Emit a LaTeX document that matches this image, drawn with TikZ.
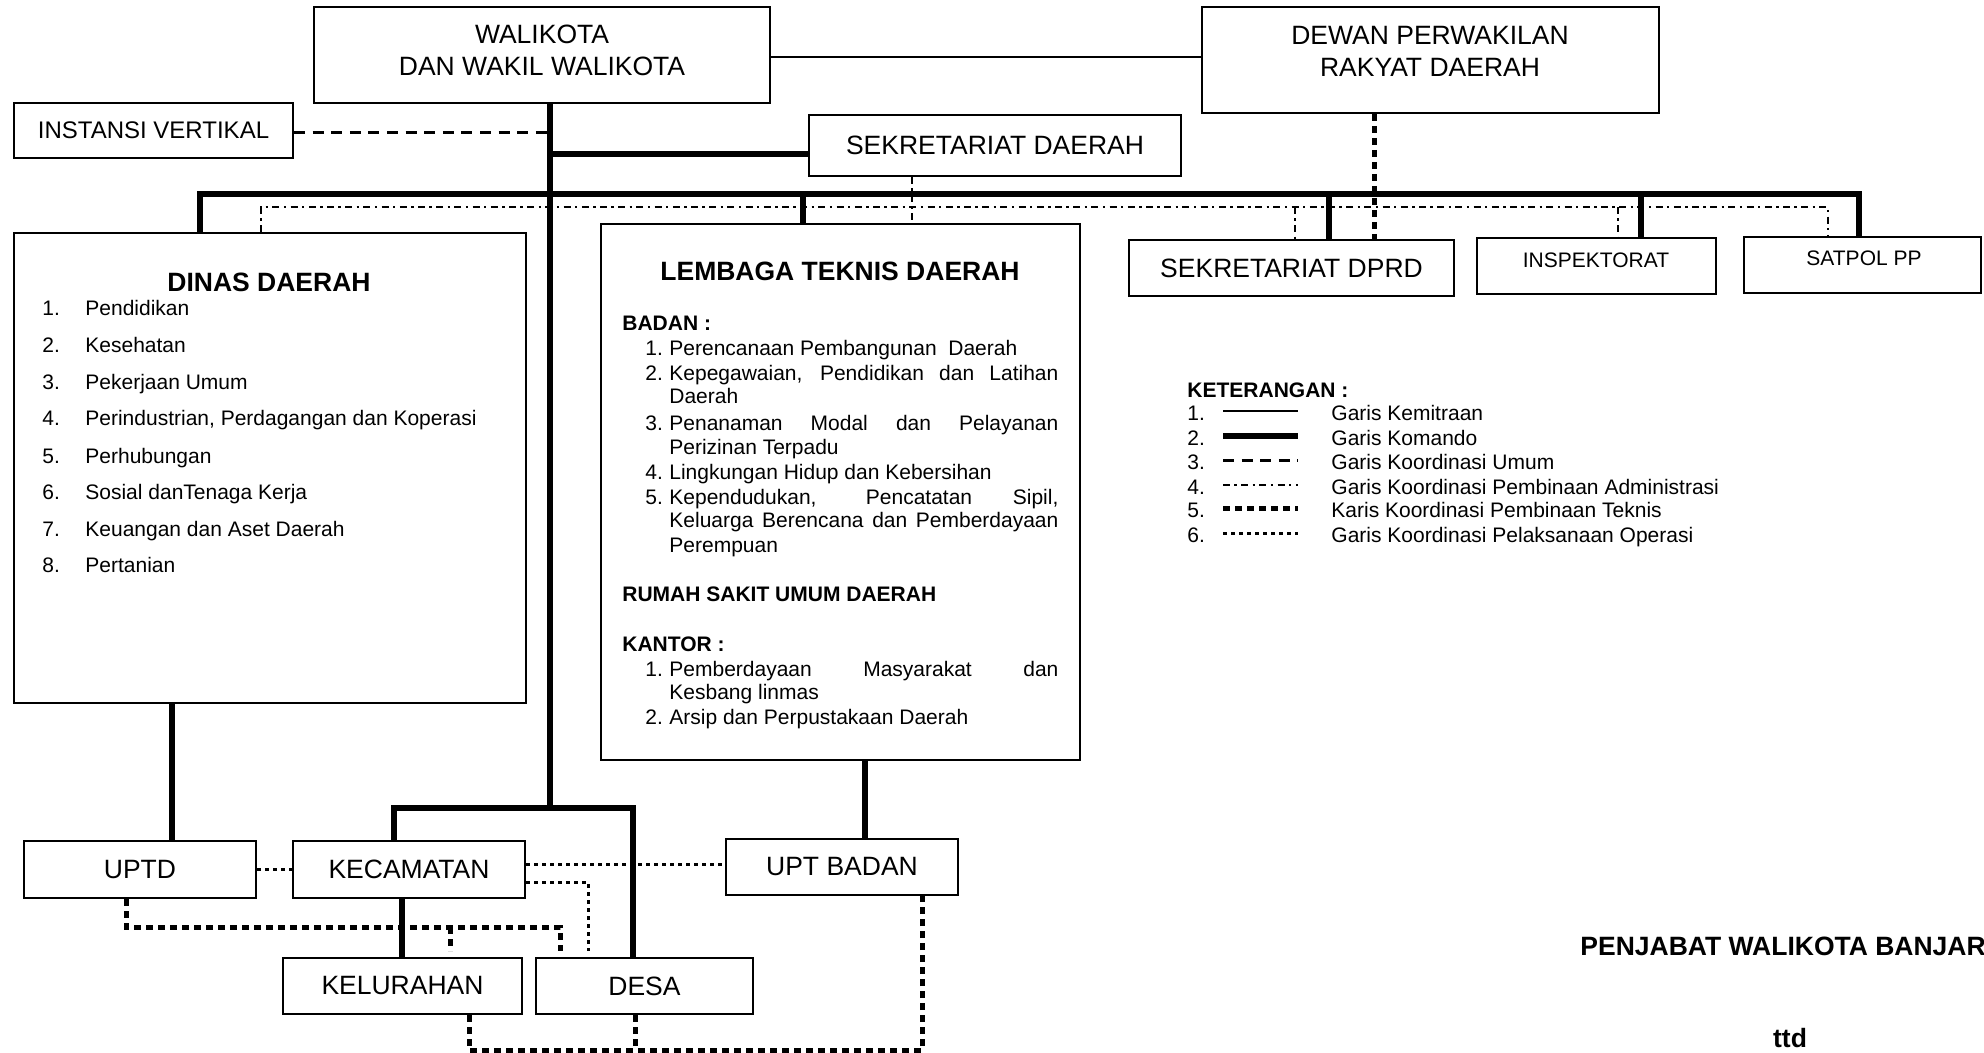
\documentclass[tikz,border=0pt]{standalone}
\usepackage{fontspec}
\setmainfont{Liberation Sans}
\newcommand\szA{\fontsize{10.5pt}{11.5pt}\selectfont}
\newcommand\szB{\fontsize{13.25pt}{16pt}\selectfont}
\newcommand\szC{\fontsize{12pt}{14pt}\selectfont}
\tikzset{
  box/.style n args={2}{draw, line width=1pt, inner sep=0pt,
    minimum width=#1*0.5pt, minimum height=#2*0.5pt},
  komando/.style={line width=2.9pt},
  kemitraan/.style={line width=1.1pt},
  umum/.style={line width=1.5pt, dash pattern=on 5.5pt off 3.8pt},
  admin/.style={line width=0.9pt, dash pattern=on 3.5pt off 2.2pt on 1.2pt off 2.2pt},
  teknis/.style={line width=2.5pt, dash pattern=on 3.5pt off 2.5pt},
  operasi/.style={line width=1.5pt, dash pattern=on 2pt off 2pt},
  lbl/.style={inner sep=0pt, font=\szA},
  itm/.style={inner sep=0pt, font=\szA, anchor=base west},
  hd/.style={inner sep=0pt, font=\szA\bfseries, anchor=base west},
}
\begin{document}
\begin{tikzpicture}[x=0.5pt,y=-0.5pt]
\useasboundingbox (0,0) rectangle (1984,1053);

% ---------- boxes ----------
\node[box={456}{96}] (walikota) at (542,55) {};
\node[inner sep=0pt, font=\szB, align=center] (walikotaT) at (542,50) {WALIKOTA\\DAN WAKIL WALIKOTA};
\node[box={457}{106}] (dprd) at (1430.5,60) {};
\node[inner sep=0pt, font=\szB, align=center] (dprdT) at (1430,51) {DEWAN PERWAKILAN\\RAKYAT DAERAH};
\node[box={279}{55}, font=\szC] (instansi) at (153.5,130.5) {INSTANSI VERTIKAL};
\node[box={372}{61}, font=\szB] (sekda) at (995,145.5) {SEKRETARIAT DAERAH};
\node[box={325}{56}, font=\szB] (sekdprd) at (1291.5,268) {SEKRETARIAT DPRD};
\node[box={239}{56}] (inspektorat) at (1596.5,266) {};
\node[lbl] (inspT) at (1596,260) {INSPEKTORAT};
\node[box={237}{56}] (satpol) at (1862.5,265) {};
\node[lbl] (satpolT) at (1864,258) {SATPOL PP};
\node[box={512}{470}] (dinas) at (270,468) {};
\node[box={479}{536}] (lembaga) at (840,492) {};
\node[box={232}{57}, font=\szB] (uptd) at (140,869.5) {UPTD};
\node[box={232}{57}, font=\szB] (kecamatan) at (409,869.5) {KECAMATAN};
\node[box={232}{56}, font=\szB] (uptbadan) at (842,867) {UPT BADAN};
\node[box={239}{56}, font=\szB] (kelurahan) at (402.5,986) {KELURAHAN};
\node[box={217}{56}, font=\szB] (desa) at (644.5,986) {DESA};

% ---------- Dinas content ----------
\node[inner sep=0pt, font=\szB\bfseries, anchor=base] (dinasT) at (269,291.5) {DINAS DAERAH};
\foreach \i/\t/\y in {1/Pendidikan/308, 2/Kesehatan/345, 3/Pekerjaan Umum/382,
  4/{Perindustrian, Perdagangan dan Koperasi}/418, 5/Perhubungan/456,
  6/Sosial danTenaga Kerja/492, 7/Keuangan dan Aset Daerah/529, 8/Pertanian/565}{
  \node[itm] (dn\i) at (42,\y+7.5) {\i.};
  \node[itm] (dt\i) at (85,\y+7.5) {\t};
}

% ---------- Lembaga content ----------
\node[inner sep=0pt, font=\szB\bfseries, anchor=base] (lembT) at (840,280.5) {LEMBAGA TEKNIS DAERAH};
\node[hd] (badan) at (622,330.5) {BADAN :};
\node[itm] (b1n) at (645,355.5) {1.};
\node[itm] (b1t) at (669,355.5) {Perencanaan Pembangunan\ \ Daerah};
\node[itm] (b2n) at (645,380.5) {2.};
\node[itm] (b2t) at (669,380.5) {\makebox[194.5pt][s]{Kepegawaian, Pendidikan dan Latihan}};
\node[itm] (b2u) at (669,403.5) {Daerah};
\node[itm] (b3n) at (645,430.5) {3.};
\node[itm] (b3t) at (669,430.5) {\makebox[194.5pt][s]{Penanaman Modal dan Pelayanan}};
\node[itm] (b3u) at (669,454.5) {Perizinan Terpadu};
\node[itm] (b4n) at (645,479.5) {4.};
\node[itm] (b4t) at (669,479.5) {Lingkungan Hidup dan Kebersihan};
\node[itm] (b5n) at (645,504.5) {5.};
\node[itm] (b5t) at (669,504.5) {\makebox[194.5pt][s]{Kependudukan, Pencatatan Sipil,}};
\node[itm] (b5u) at (669,527.5) {\makebox[194.5pt][s]{Keluarga Berencana dan Pemberdayaan}};
\node[itm] (b5v) at (669,552.5) {Perempuan};
\node[hd] (rsud) at (622,601) {RUMAH SAKIT UMUM DAERAH};
\node[hd] (kantor) at (622,651.5) {KANTOR :};
\node[itm] (k1n) at (645,676.5) {1.};
\node[itm] (k1t) at (669,676.5) {\makebox[194.5pt][s]{Pemberdayaan Masyarakat dan}};
\node[itm] (k1u) at (669,699.5) {Kesbang linmas};
\node[itm] (k2n) at (645,724.5) {2.};
\node[itm] (k2t) at (669,724.5) {Arsip dan Perpustakaan Daerah};

% ---------- junction coordinates ----------
\coordinate (jMit) at (770,57);
\coordinate (jInst) at (550,133);
\coordinate (jSek) at (550,154);
\coordinate (jBus) at (550,194);
\coordinate (jKec) at (550,808);
\coordinate (busL) at (200,194);
\coordinate (busR) at (1859,194);
\coordinate (xLem) at (803,194);
\coordinate (xSD) at (1329,194);
\coordinate (xIns) at (1641,194);
\coordinate (adL) at (261,207);
\coordinate (adR) at (1828,207);
\coordinate (adS) at (912,207);
\coordinate (adSD) at (1295,207);
\coordinate (adIn) at (1618,207);
\coordinate (xDP) at (1374,0);
\coordinate (xDin) at (172,0);
\coordinate (xLB) at (865,0);
\coordinate (kL) at (394,808);
\coordinate (kR) at (633,808);
\coordinate (xKK) at (402,0);
\coordinate (oy1) at (0,869);
\coordinate (oy2) at (0,864);
\coordinate (oc) at (588,882);
\coordinate (t1) at (126,927);
\coordinate (t2) at (560,927);
\coordinate (t3) at (450,927);
\coordinate (b1) at (469,1050);
\coordinate (b2) at (922,1050);
\coordinate (b3) at (635,1050);

% ---------- connectors ----------
\draw[kemitraan] (walikota.east |- jMit) -- (dprd.west |- jMit);
\draw[komando] (walikota.south -| jBus) -- (jKec);
\draw[umum] (instansi.east |- jInst) -- (jInst);
\draw[komando] (jSek) -- (sekda.west |- jSek);
\draw[komando] (dinas.north -| busL) -- (busL) -- (busR) -- (satpol.north -| busR);
\draw[komando] (xLem) -- (lembaga.north -| xLem);
\draw[komando] (xSD) -- (sekdprd.north -| xSD);
\draw[komando] (xIns) -- (inspektorat.north -| xIns);
\draw[admin] (dinas.north -| adL) -- (adL) -- (adR) -- (satpol.north -| adR);
\draw[admin] (sekda.south -| adS) -- (lembaga.north -| adS);
\draw[admin] (adSD) -- (sekdprd.north -| adSD);
\draw[admin] (adIn) -- (inspektorat.north -| adIn);
\draw[teknis] (dprd.south -| xDP) -- (sekdprd.north -| xDP);
\draw[komando] (dinas.south -| xDin) -- (uptd.north -| xDin);
\draw[komando] (lembaga.south -| xLB) -- (uptbadan.north -| xLB);
\draw[komando] (kecamatan.north -| kL) -- (kL) -- (kR) -- (desa.north -| kR);
\draw[komando] (kecamatan.south -| xKK) -- (kelurahan.north -| xKK);
\draw[operasi] (uptd.east |- oy1) -- (kecamatan.west |- oy1);
\draw[operasi] (kecamatan.east |- oy2) -- (uptbadan.west |- oy2);
\draw[operasi] (kecamatan.east |- oc) -- (oc) -- ([yshift=3pt]desa.north -| oc);
\draw[teknis] (uptd.south -| t1) -- (t1) -- (t2) -- ([yshift=3pt]desa.north -| t2);
\draw[teknis] (t3) -- ([yshift=3pt]kelurahan.north -| t3);
\draw[teknis] (kelurahan.south -| b1) -- (b1) -- (b2) -- (uptbadan.south -| b2);
\draw[teknis] (desa.south -| b3) -- (b3);

% ---------- legend ----------
\node[hd] (ket) at (1187,397.5) {KETERANGAN :};
\foreach \i/\t/\y/\s in {1/Garis Kemitraan/413/kemitraan, 2/Garis Komando/438/komando,
  3/Garis Koordinasi Umum/462/umum, 4/Garis Koordinasi Pembinaan Administrasi/487/admin,
  5/Karis Koordinasi Pembinaan Teknis/510/teknis, 6/Garis Koordinasi Pelaksanaan Operasi/535/operasi}{
  \node[itm] (ln\i) at (1187,\y+7.5) {\i.};
  \node[itm] (lt\i) at (1331,\y+7.5) {\t};
  \coordinate (ls\i) at (1223,\y-2);
  \coordinate (le\i) at (1298,\y-2);
  \draw[\s] (ls\i) -- (le\i);
}

% ---------- signature ----------
\node[inner sep=0pt, font=\szB\bfseries, anchor=base west] (penjabat) at (1580,955.5) {PENJABAT WALIKOTA BANJAR};
\node[inner sep=0pt, font=\szB\bfseries, anchor=base] (ttd) at (1790,1047) {ttd};
\end{tikzpicture}
\end{document}
